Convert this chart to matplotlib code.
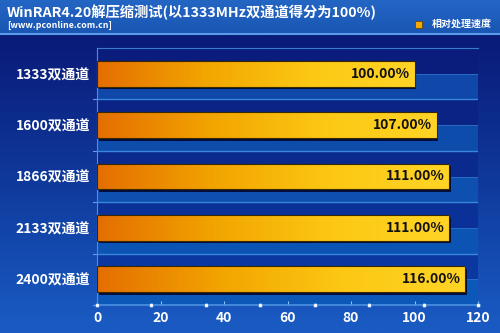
import numpy as np
import matplotlib
matplotlib.use('Agg')
from matplotlib import pyplot as plt
from matplotlib.colors import LinearSegmentedColormap, to_rgb
from matplotlib.patches import Rectangle

categories = ['1333双通道', '1600双通道', '1866双通道', '2133双通道', '2400双通道']
values = [100.0, 107.0, 111.0, 111.0, 116.0]
value_labels = ['100.00%', '107.00%', '111.00%', '111.00%', '116.00%']
xticks = [0, 20, 40, 60, 80, 100, 120]
title = 'WinRAR4.20解压缩测试(以1333MHz双通道得分为100%)'
subtitle = '[www.pconline.com.cn]'
legend_label = '相对处理速度'

plt.rcParams['font.family'] = ['Noto Sans CJK SC', 'DejaVu Sans']
plt.rcParams['font.weight'] = 'bold'

fig = plt.figure(figsize=(5, 3.33), dpi=100)

# background
bg = fig.add_axes([0, 0, 1, 1])
bg.set_axis_off()
body = LinearSegmentedColormap.from_list('body', ['#1a5cc4', '#0f3a9c', '#0a1a78'])
grad = np.linspace(0, 1, 256).reshape(-1, 1)
bg.imshow(grad, cmap=body, extent=[0, 1, 0, 1 - 35 / 333], aspect='auto', origin='lower')
head = LinearSegmentedColormap.from_list('head', ['#1a56b4', '#2466c4'])
bg.imshow(grad, cmap=head, extent=[0, 1, 1 - 33 / 333, 1], aspect='auto', origin='lower')
bg.axhline(1 - 34 / 333, color='#5a9ce6', lw=1.5)
bg.set_xlim(0, 1)
bg.set_ylim(0, 1)

fig.text(7 / 500, 1 - 12 / 333, title, color='white', fontsize=10.3, va='center', ha='left')
fig.text(7 / 500, 1 - 25 / 333, subtitle, color='white', fontsize=6.3, va='center', ha='left')
bg.add_patch(Rectangle((415 / 500, 1 - 28 / 333), 7 / 500, 7 / 333, facecolor='#f5a800',
                       edgecolor='#5a3a00', lw=0.5))
fig.text(432 / 500, 1 - 24 / 333, legend_label, color='white', fontsize=7.2, va='center', ha='left')

ax = fig.add_axes([97 / 500, 1 - 305 / 333, 381 / 500, 257 / 333])
ax.set_facecolor('none')
n = len(categories)


def mix(c1, c2, t):
    a, b = np.array(to_rgb(c1)), np.array(to_rgb(c2))
    return tuple(a + (b - a) * t)


# bands
for i in range(n):
    t = i / (n - 1)
    ax.add_patch(Rectangle((0, i), 120, 0.5, facecolor=mix('#0a1c7c', '#0a38a0', t),
                           edgecolor='none', zorder=0))
    ax.add_patch(Rectangle((0, i + 0.5), 120, 0.5, facecolor=mix('#0f48a8', '#0b58b8', t),
                           edgecolor='none', zorder=0))
    ax.plot([0, 120], [i + 0.5, i + 0.5], color='#2a6cc4', lw=0.7, zorder=1)
    ax.plot([0, 120], [i + 1, i + 1], color='#3a86dc', lw=1.0, zorder=1)
    ax.plot([-1.2, 0], [i + 1, i + 1], color='#5aa0ea', lw=0.8, zorder=1, clip_on=False)
ax.plot([0, 120], [0, 0], color='#3a7cd0', lw=0.8, zorder=1, clip_on=False)

barcmap = LinearSegmentedColormap.from_list('bar', ['#e46e00', '#f2a400', '#fcc814', '#ffd426'])
hgrad = np.linspace(0, 1, 256).reshape(1, -1)
for i, (v, lab) in enumerate(zip(values, value_labels)):
    y0 = i + 0.25
    ax.add_patch(Rectangle((0.5, y0 + 0.05), v, 0.5, facecolor='#050d3a', edgecolor='none', zorder=2))
    rect = Rectangle((0, y0), v, 0.5, facecolor='none', edgecolor='#3a2800', lw=0.8, zorder=4)
    ax.add_patch(rect)
    im = ax.imshow(hgrad, cmap=barcmap, extent=[0, v, y0 + 0.5, y0], aspect='auto', zorder=3)
    im.set_clip_path(rect)
    ax.text(v - 1.5, i + 0.5, lab, color='#111111', fontsize=10, ha='right', va='center', zorder=5)

ax.set_xlim(0, 120)
ax.set_ylim(n, 0)
ax.set_xticks(xticks)
ax.set_xticklabels([str(t) for t in xticks], color='white', fontsize=10)
ax.tick_params(axis='x', length=3, color='#8cc4ff', pad=4, direction='in')
ax.set_yticks([i + 0.5 for i in range(n)])
ax.set_yticklabels(categories, color='white', fontsize=10)
ax.tick_params(axis='y', length=0, pad=5)
for s in ['top', 'right']:
    ax.spines[s].set_visible(False)
ax.spines['left'].set_color('#4a90e0')
ax.spines['bottom'].set_color('#4a90e0')
ax.spines['bottom'].set_linewidth(1.2)
ax.plot(np.linspace(0, 120, 8), [n] * 8, 'o', ms=3, mfc='white', mec='#3a80d0', mew=0.5,
        clip_on=False, zorder=6)

fig.savefig('out.png', dpi=100)
